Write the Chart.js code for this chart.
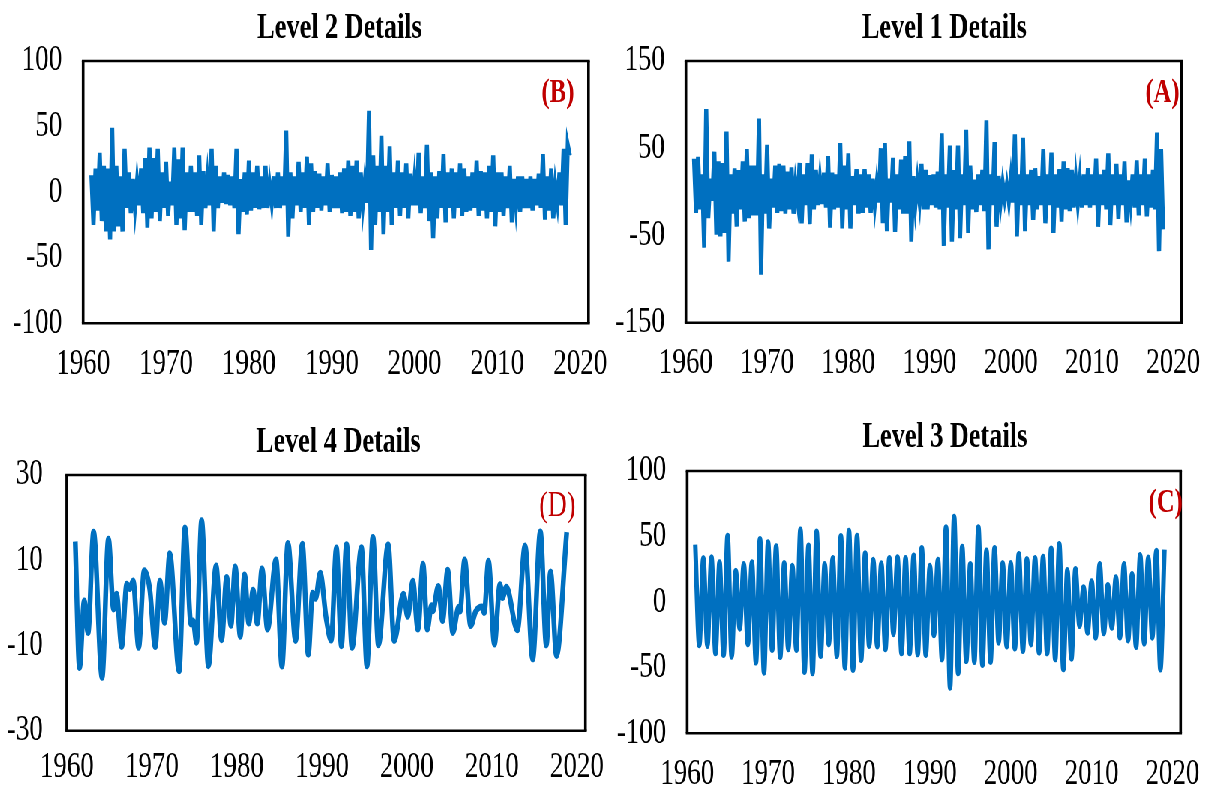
<!DOCTYPE html>
<html>
<head>
<meta charset="utf-8">
<title>Level Details</title>
<script src="https://cdn.jsdelivr.net/npm/chart.js@4.4.1/dist/chart.umd.min.js"></script>
<style>
  html, body { margin: 0; padding: 0; background: #fff; overflow: hidden; }
  /* the source figure is squeezed horizontally, so draw wide and squeeze */
  #stage { position: absolute; left: 0; top: 0; width: 1620px; height: 789px;
           transform: scaleX(0.75); transform-origin: 0 0; }
  #stage canvas { position: absolute; left: 0; top: 0; }
</style>
</head>
<body>
<div id="stage">
  <canvas id="level2" width="1620" height="789"></canvas>
  <canvas id="level1" width="1620" height="789"></canvas>
  <canvas id="level4" width="1620" height="789"></canvas>
  <canvas id="level3" width="1620" height="789"></canvas>
</div>
<script>
// x axis
var xTickYears = [1960, 1970, 1980, 1990, 2000, 2010, 2020];
var seriesStart = 1961;

// y axis ticks per panel
var yTicksLevel1 = [-150, -50, 50, 150];
var yTicksLevel2 = [-100, -50, 0, 50, 100];
var yTicksLevel3 = [-100, -50, 0, 50, 100];
var yTicksLevel4 = [-30, -10, 10, 30];

// Level 1 details: quarterly swings (high, low) from 1961
var level1Values = [
  38,-24, 40,-20, 20,-64, 95,-30, 15,-10, 46,-49, 35,-51, 33,-47, 69,-80, 20,-25,
  27,-40, 25,-20, 35,-34, 49,-30, 30,-27, 30,-27, 84,-95, 20,-25, 54,-42, 15,-18,
  30,-24, 32,-22, 30,-25, 23,-20, 28,-25, 9,-10, 33,-36, 20,-15, 33,-37, 43,-20,
  25,-15, 14,-14, 22,-18, 41,-41, 22,-20, 20,-18, 56,-42, 30,-20, 44,-42, 18,-15,
  26,-25, 20,-24, 26,-18, 20,-24, 15,-15, 10,-12, 50,-36, 56,-45, 15,-12, 39,-46,
  20,-20, 37,-25, 41,-25, 58,-57, 18,-15, 12,-10, 32,-20, 25,-20, 19,-15, 20,-18,
  23,-20, 67,-62, 20,-18, 53,-57, 25,-20, 53,-53, 20,-15, 71,-47, 30,-20, 14,-23,
  20,-15, 25,-22, 82,-66, 20,-15, 57,-40, 18,-12, 10,-8, 8,-11, 15,-12, 66,-51,
  20,-15, 62,-45, 20,-15, 25,-32, 27,-20, 18,-15, 49,-36, 20,-15, 45,-47, 20,-18,
  26,-34, 35,-20, 27,-22, 25,-18, 15,-13, 14,-18, 20,-15, 27,-18, 20,-15, 38,-40,
  20,-15, 25,-20, 44,-38, 20,-15, 32,-31, 20,-15, 35,-35, 13,-12, 20,-18, 36,-27,
  20,-15, 38,-28, 20,-18, 25,-20, 68,-68, 49,-43
];

// Level 2 details: quarterly swings (high, low) from 1961
var level2Values = [
  13,-25, 18,-14, 30,-22, 20,-30, 18,-36, 49,-30, 20,-26, 12,-30, 33,-12, 15,-16,
  10,-12, 8,-10, 18,-16, 26,-27, 34,-20, 26,-15, 33,-22, 15,-12, 23,-18, 8,-10,
  34,-25, 25,-20, 34,-29, 15,-15, 20,-15, 15,-18, 28,-25, 16,-12, 10,-10, 33,-30,
  20,-12, 12,-8, 15,-9, 13,-10, 12,-12, 33,-32, 10,-15, 15,-17, 24,-14, 15,-12,
  20,-13, 12,-12, 20,-12, 6,-8, 12,-12, 15,-12, 12,-10, 47,-34, 15,-20, 12,-10,
  23,-15, 15,-12, 27,-25, 22,-15, 16,-12, 14,-14, 12,-10, 22,-15, 13,-12, 12,-12,
  15,-16, 18,-15, 24,-18, 20,-15, 24,-20, 15,-10, 8,-8, 62,-44, 28,-25, 20,-15,
  43,-32, 20,-15, 35,-25, 15,-12, 24,-18, 15,-12, 22,-20, 14,-10, 10,-10, 30,-16,
  12,-12, 36,-22, 15,-35, 12,-20, 16,-12, 29,-23, 15,-12, 18,-20, 15,-12, 22,-18,
  18,-15, 12,-14, 15,-12, 24,-18, 16,-14, 15,-20, 20,-15, 28,-26, 15,-15, 15,-18,
  12,-12, 20,-23, 10,-10, 12,-15, 12,-12, 10,-12, 12,-14, 10,-10, 14,-12, 29,-21,
  12,-14, 18,-20, 5,-8, 15,-10, 33,-25, 36,28
];

// Level 3 details: half-yearly peaks and troughs from 1961
var level3Values = [
  43.8,-32.9, 33.7,-33.4, 34.2,-39, 30.4,-40.3, 50.7,-41.6,
  24,-20.2, 29.1,-32.2, 30.4,-46.1, 48.2,-53.8, 45.6,-36.5,
  42.6,-41.8, 29.9,-36, 27.8,-36.5, 55.3,-53.3, 43.1,-54.3,
  53.8,-41.1, 29.1,-32.2, 33.7,-41.1, 50.5,-50, 54.5,-51.7,
  50.7,-44.1, 37.2,-33.4, 32.4,-33.9, 29.6,-36, 33.7,-24.5,
  34.2,-39, 33.7,-39, 35.5,-39.8, 41.3,-40.3, 27.8,-25.3,
  32.4,-43.6, 57.1,-65.2, 65.2,-54.3, 42.3,-44.9, 29.1,-45.6,
  57.1,-47.9, 39.3,-45.6, 41.3,-30.9, 29.9,-33.9, 29.9,-35.5,
  36.7,-37.2, 32.9,-32.2, 33.7,-38.5, 34.7,-39, 41.0,-43.6,
  44.4,-51.2, 24.5,-43.1, 25.3,-18.2, 11.3,-23.3, 15.9,-27.1,
  29.1,-23.8, 13.1,-19.5, 18.9,-27.1, 29.1,-29.2, 21.4,-34.2,
  36,-31.7, 34.1,-27.1, 39.2,-51.3, 40
];

// Level 4 details: turning points
var level4Years = [
  1961.0, 1961.5, 1962.05, 1962.5, 1963.15, 1964.15, 1964.9, 1965.5, 1965.85, 1966.45,
  1967.05, 1967.4, 1967.8, 1968.45, 1969.1, 1969.75, 1970.4, 1970.95, 1971.5, 1972.1,
  1973.2, 1973.9, 1974.6, 1974.85, 1975.25, 1975.85, 1976.65, 1977.55, 1978.2, 1978.8,
  1979.3, 1979.8, 1980.4, 1980.9, 1981.4, 1981.9, 1982.4, 1982.95, 1983.6, 1984.6,
  1985.3, 1986.0, 1986.9, 1987.7, 1988.4, 1988.9, 1989.25, 1989.8, 1990.5, 1991.1,
  1991.7, 1992.3, 1992.9, 1993.55, 1994.65, 1995.3, 1996.0, 1996.65, 1997.8, 1998.5,
  1999.6, 2000.1, 2000.7, 2001.3, 2001.9, 2002.4, 2002.9, 2003.05, 2003.7, 2004.2,
  2004.8, 2005.4, 2006.1, 2006.25, 2006.8, 2007.5, 2008.1, 2008.85, 2009.1, 2009.6,
  2010.3, 2010.95, 2011.25, 2011.7, 2013.0, 2013.9, 2014.8, 2015.7, 2016.4, 2016.9,
  2017.6, 2018.8
];
var level4Values = [
  14.4, -15.2, 0.5, -7.0, 16.6, -17.5, 15.0, -1.5, 2.1, -10.3,
  4.4, 3.3, 5.2, -10.5, 7.6, 3.3, -10.3, 5.1, -4.6, 11.6,
  -16.0, 17.6, -5.0, -4.2, -9.3, 19.3, -14.8, 8.7, -8.7, 6.0,
  -5.3, 8.5, -7.9, 6.6, -4.8, 3.0, -4.8, 8.0, -6.2, 10.1,
  -14.9, 14.0, -8.9, 13.8, -12.1, 2.3, 1.0, 7.0, -3.6, -8.8,
  12.9, -10.1, 13.7, -10.5, 13.0, -14.8, 15.4, -9.9, 13.7, -8.9,
  2.1, -3.2, 5.1, -6.2, 9.1, -6.2, -0.6, -1.9, 3.9, -4.2,
  7.7, -7.0, -1.0, -2.0, 10.1, -5.4, -2.0, -0.9, -2.3, 9.8,
  -9.7, 4.3, 1.2, 3.7, -6.4, 13.4, -13.2, 16.7, -9.9, 7.3,
  -12.4, 16.6
];

var LINE_BLUE = '#0070C0';
var TAG_RED = '#C00000';
var SERIF = '"Liberation Serif", "Times New Roman", serif';

function stepPoints(values, step) {
  return values.map(function (v, i) { return { x: seriesStart + i * step, y: v }; });
}

function pairPoints(years, values) {
  return years.map(function (yr, i) { return { x: yr, y: values[i] }; });
}

// box around the plot, title and panel tag
var frameAndText = {
  id: 'frameAndText',
  afterDraw: function (chart, args, opts) {
    var ctx = chart.ctx, a = chart.chartArea;
    ctx.save();
    ctx.strokeStyle = '#000';
    ctx.lineWidth = 2.6;
    ctx.beginPath();
    ctx.moveTo(a.left - 1.8, a.top); ctx.lineTo(a.right + 1.8, a.top);
    ctx.moveTo(a.left - 1.8, a.bottom); ctx.lineTo(a.right + 1.8, a.bottom);
    ctx.stroke();
    ctx.lineWidth = 3.6;
    ctx.beginPath();
    ctx.moveTo(a.left, a.top); ctx.lineTo(a.left, a.bottom);
    ctx.moveTo(a.right, a.top); ctx.lineTo(a.right, a.bottom);
    ctx.stroke();

    ctx.fillStyle = '#000';
    ctx.font = 'bold 35px ' + SERIF;
    ctx.textAlign = 'center';
    ctx.textBaseline = 'alphabetic';
    ctx.fillText(opts.title, opts.titleX, opts.titleY);

    ctx.fillStyle = TAG_RED;
    ctx.font = opts.tagFont;
    ctx.textAlign = 'right';
    ctx.fillText(opts.tag, opts.tagX, opts.tagY);
    ctx.restore();
  }
};

function makePanel(id, cfg) {
  var tickFont = { family: SERIF, size: 36 };
  return new Chart(document.getElementById(id), {
    type: 'line',
    data: {
      datasets: [{
        data: cfg.points,
        borderColor: LINE_BLUE,
        borderWidth: cfg.lineWidth,
        pointRadius: 0,
        fill: false,
        tension: cfg.smooth ? 0.4 : 0,
        cubicInterpolationMode: cfg.smooth ? 'monotone' : 'default'
      }]
    },
    plugins: [frameAndText],
    options: {
      responsive: false,
      animation: false,
      events: [],
      layout: { autoPadding: false, padding: cfg.pad },
      plugins: {
        legend: { display: false },
        tooltip: { enabled: false },
        frameAndText: cfg.text
      },
      scales: {
        x: {
          type: 'linear',
          min: 1960,
          max: 2021,
          grid: { display: false, drawTicks: false },
          border: { display: false },
          ticks: {
            font: tickFont, color: '#000', padding: cfg.xPad,
            maxRotation: 0, autoSkip: false,
            callback: function (v) { return String(v); }
          },
          afterBuildTicks: function (s) { s.ticks = xTickYears.map(function (v) { return { value: v }; }); },
          afterFit: function (s) { s.height = cfg.axisH; }
        },
        y: {
          min: cfg.yTicks[0],
          max: cfg.yTicks[cfg.yTicks.length - 1],
          grid: { display: false, drawTicks: false },
          border: { display: false },
          ticks: {
            font: tickFont, color: '#000', padding: cfg.yPad,
            callback: function (v) { return String(v); }
          },
          afterBuildTicks: function (s) { s.ticks = cfg.yTicks.map(function (v) { return { value: v }; }); },
          afterFit: function (s) { s.width = cfg.axisW; }
        }
      }
    }
  });
}

makePanel('level2', {
  points: stepPoints(level2Values, 0.25), lineWidth: 5.5, smooth: false,
  yTicks: yTicksLevel2, xPad: 20, yPad: 28, axisW: 108, axisH: 75,
  pad: { left: 2.7, right: 835.2, top: 61, bottom: 390.7 },
  text: { title: 'Level 2 Details', titleX: 452.7, titleY: 38,
          tag: '(B)', tagFont: 'bold 33px ' + SERIF, tagX: 766, tagY: 102 }
});

makePanel('level1', {
  points: stepPoints(level1Values, 0.25), lineWidth: 5.5, smooth: false,
  yTicks: yTicksLevel1, xPad: 19, yPad: 28, axisW: 108, axisH: 75,
  pad: { left: 806.7, right: 30.1, top: 61, bottom: 391.3 },
  text: { title: 'Level 1 Details', titleX: 1259.3, titleY: 38,
          tag: '(A)', tagFont: 'bold 33px ' + SERIF, tagX: 1573, tagY: 102 }
});

makePanel('level4', {
  points: pairPoints(level4Years, level4Values), lineWidth: 6.5, smooth: true,
  yTicks: yTicksLevel4, xPad: 15, yPad: 32, axisW: 88, axisH: 58,
  pad: { left: 0.9, right: 839.3, top: 475, bottom: 0.3 },
  text: { title: 'Level 4 Details', titleX: 451, titleY: 452,
          tag: '(D)', tagFont: '35px ' + SERIF, tagX: 767.6, tagY: 516 }
});

makePanel('level3', {
  points: stepPoints(level3Values, 0.5), lineWidth: 6, smooth: true,
  yTicks: yTicksLevel3, xPad: 20, yPad: 28, axisW: 108, axisH: 55,
  pad: { left: 808.4, right: 28.5, top: 471, bottom: 0.7 },
  text: { title: 'Level 3 Details', titleX: 1260, titleY: 447,
          tag: '(C)', tagFont: 'bold 33px ' + SERIF, tagX: 1577.3, tagY: 512 }
});
</script>
</body>
</html>
